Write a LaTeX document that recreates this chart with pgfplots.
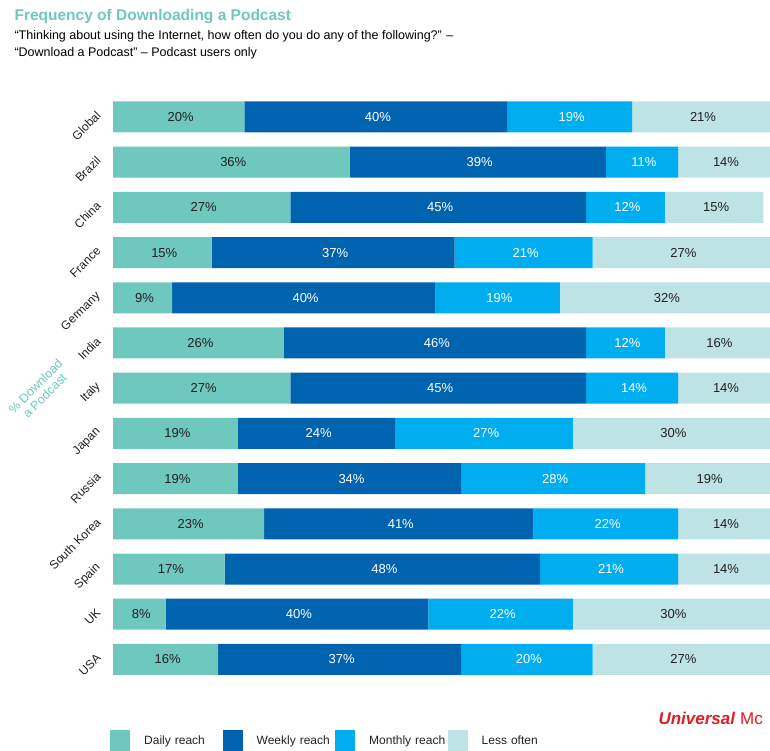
\documentclass[border=0pt]{standalone}
\usepackage{pgfplots}
\pgfplotsset{compat=1.18}
\usepackage{pgfplotstable}
\usepackage{fontspec}
\setmainfont{Liberation Sans}

\definecolor{cDaily}{RGB}{110,200,190}
\definecolor{cWeekly}{RGB}{0,99,176}
\definecolor{cMonthly}{RGB}{0,174,239}
\definecolor{cLess}{RGB}{190,227,229}
\definecolor{cDark}{RGB}{35,31,32}
\definecolor{cRed}{RGB}{227,27,35}

\pgfplotstableread{
cat daily weekly monthly less
Global 20 40 19 21
Brazil 36 39 11 14
China 27 45 12 15
France 15 37 21 27
Germany 9 40 19 32
India 26 46 12 16
Italy 27 45 14 14
Japan 19 24 27 30
Russia 19 34 28 19
{South Korea} 23 41 22 14
Spain 17 48 21 14
UK 8 40 22 30
USA 16 37 20 27
}\datatable

% one stacked segment with its value written in it
\pgfplotsset{
  seg/.style n args={2}{
    fill=#1, draw=none, forget plot,
    point meta=explicit symbolic,
    nodes near coords={\pgfplotspointmeta\%},
    every node near coord/.append style={anchor=center, xshift=2pt,
      text=#2, font=\fontsize{13}{13}\selectfont},
  },
}

\begin{document}
\begin{tikzpicture}
\useasboundingbox (0,0) rectangle (770pt,751pt);

\node[anchor=base west, text=cDaily, font=\bfseries\fontsize{15.5}{16}\selectfont] at (11pt,730pt) {Frequency of Downloading a Podcast};
\node[anchor=base west, text=black, font=\fontsize{12.5}{13}\selectfont] at (11pt,711pt) {``Thinking about using the Internet, how often do you do any of the following?'' --};
\node[anchor=base west, text=black, font=\fontsize{12.5}{13}\selectfont] at (11pt,694pt) {``Download a Podcast'' -- Podcast users only};

\begin{axis}[
  at={(113pt,656.6pt)}, anchor=north west,
  scale only axis, width=657pt, height=587.6pt,
  xbar stacked, bar width=31pt,
  xmin=0, xmax=100, ymin=-0.5, ymax=12.5, y dir=reverse,
  axis line style={draw=none}, major tick length=0pt,
  xtick=\empty, ytick={0,...,12},
  yticklabels from table={\datatable}{cat},
  yticklabel style={yshift=6pt, xshift=-12pt, rotate=45, anchor=east,
    text=cDark, font=\fontsize{12}{12}\selectfont},
  legend style={at={(axis description cs:-0.0046,-0.0817)}, anchor=north west,
    draw=none, fill=none, inner sep=0pt, legend columns=4,
    nodes={inner xsep=0pt, inner ysep=2pt, text width=78.5pt, align=left,
      font=\fontsize{12}{12}\selectfont, text=cDark},
    /tikz/every odd column/.append style={column sep=14pt}},
  legend image code/.code={\fill[#1] (0pt,-11pt) rectangle (20pt,11pt);},
]
\addplot[seg={cDaily}{cDark}] table[x=daily, y expr=\coordindex, meta=daily] {\datatable};
\addplot[seg={cWeekly}{white}] table[x=weekly, y expr=\coordindex, meta=weekly] {\datatable};
\addplot[seg={cMonthly}{white}] table[x=monthly, y expr=\coordindex, meta=monthly] {\datatable};
\addplot[seg={cLess}{cDark}] table[x=less, y expr=\coordindex, meta=less] {\datatable};
\addlegendimage{fill=cDaily, draw=none}
\addlegendimage{fill=cWeekly, draw=none}
\addlegendimage{fill=cMonthly, draw=none}
\addlegendimage{fill=cLess, draw=none}
\legend{Daily reach, Weekly reach, Monthly reach, Less often}
\end{axis}

\node[rotate=45, align=center, text=cDaily, font=\fontsize{12.5}{13}\selectfont] at (40pt,360pt) {\% Download\\a Podcast};
\node[anchor=base west, text=cRed, font=\fontsize{17}{17}\selectfont] at (655pt,26pt) {\textbf{\textit{Universal}} Mc};
\end{tikzpicture}
\end{document}
